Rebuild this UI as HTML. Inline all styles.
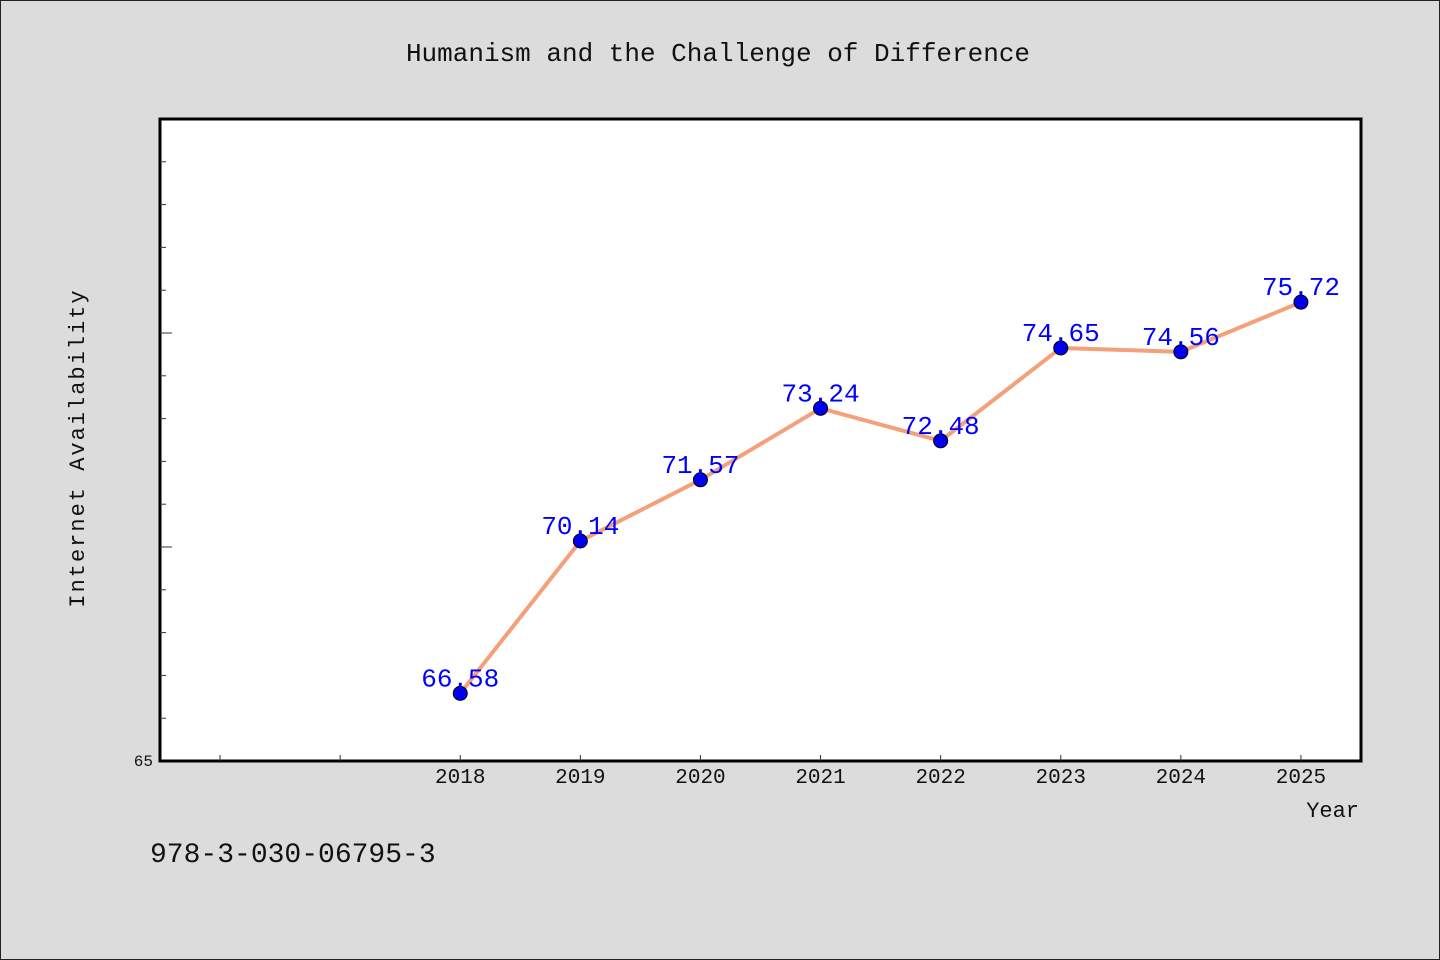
<!DOCTYPE html>
<html><head><meta charset="utf-8"><style>
html,body{margin:0;padding:0;background:#dcdcdc;}
#wrap{width:1438px;height:958px;border:1px solid #222;position:relative;background:#dcdcdc;}
svg{position:absolute;left:-1px;top:-1px;}
text{font-family:"WenQuanYi Zen Hei","Liberation Mono",monospace;}
</style></head><body>
<div id="wrap">
<svg id="chart" width="1440" height="960"></svg>
</div>
<script>
const years=[2018,2019,2020,2021,2022,2023,2024,2025];
const values=[66.58,70.14,71.57,73.24,72.48,74.65,74.56,75.72];
const valueLabels=["66.58","70.14","71.57","73.24","72.48","74.65","74.56","75.72"];
const xTickYears=[2016,2017,2018,2019,2020,2021,2022,2023,2024,2025];
const yMin=65,yMax=80;
const L=160,R=1361,T=119,B=761;
const xMin=2015.5,xMax=2025.5;
const xs=v=>L+(v-xMin)/(xMax-xMin)*(R-L);
const ys=v=>B-(v-yMin)/(yMax-yMin)*(B-T);
const svg=document.getElementById('chart');
const NS='http://www.w3.org/2000/svg';
function mk(t,a,txt){const e=document.createElementNS(NS,t);for(const k in a)e.setAttribute(k,a[k]);if(txt!==undefined)e.textContent=txt;svg.appendChild(e);return e;}
let e;
e=mk('text',{x:718,y:61,'text-anchor':'middle','font-size':26,fill:'#111'},'Humanism and the Challenge of Difference');


e=mk('rect',{x:L,y:T,width:R-L,height:B-T,fill:'#fff',stroke:'#000','stroke-width':3});


for(let v=yMin+1;v<yMax;v++){
  const major=(v%5===0);
  e=mk('line',{x1:L,x2:L+(major?12:6),y1:ys(v),y2:ys(v),stroke:'#333','stroke-width':1});
  
  
}
e=mk('text',{x:153,y:766,'text-anchor':'end','font-size':16,fill:'#111'},'65');


xTickYears.forEach(y=>{
  e=mk('line',{x1:xs(y),x2:xs(y),y1:B,y2:B-6,stroke:'#333','stroke-width':1});
  
  
});
years.forEach(y=>{
  e=mk('text',{x:xs(y),y:783,'text-anchor':'middle','font-size':21,fill:'#111'},String(y));
  
  
});
e=mk('text',{x:1359,y:817,'text-anchor':'end','font-size':22,fill:'#111'},'Year');


e=mk('text',{x:0,y:0,'text-anchor':'middle','font-size':22,fill:'#111','letter-spacing':'2',transform:'translate(84,448) rotate(-90)'},'Internet Availability');


e=mk('polyline',{points:years.map((y,i)=>xs(y)+','+ys(values[i])).join(' '),fill:'none',stroke:'#f4a07a','stroke-width':4,'stroke-linejoin':'round'});


years.forEach((y,i)=>{
  e=mk('circle',{cx:xs(y),cy:ys(values[i]),r:7,fill:'#0000ee',stroke:'#000','stroke-width':1});
  
  
  e=mk('text',{x:xs(y),y:ys(values[i])-7,'text-anchor':'middle','font-size':26,fill:'#0000ff'},valueLabels[i]);
  
  
});
e=mk('text',{x:150,y:862,'font-size':28,fill:'#111'},'978-3-030-06795-3');


</script>
</body></html>
